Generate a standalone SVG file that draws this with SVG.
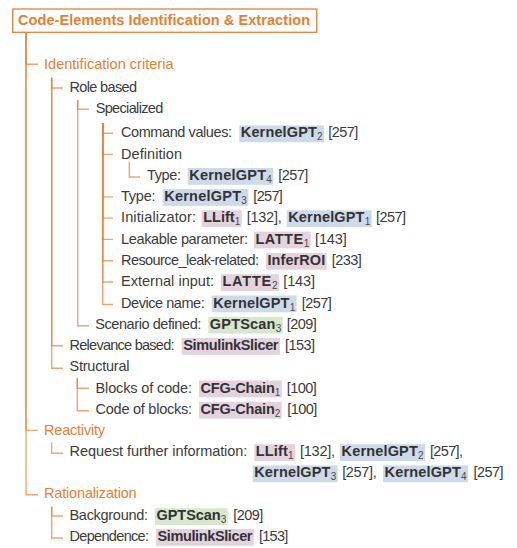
<svg xmlns="http://www.w3.org/2000/svg" width="517" height="548" viewBox="0 0 517 548">
<style>
text{font-family:"Liberation Sans",Arial,Helvetica,sans-serif;font-size:14.5px;fill:#3b3b3b}
.o{fill:#E67E33}
.ti{font-weight:bold;fill:#E67E33}
.b{font-weight:bold;fill:#333333}
.s{font-size:10px;font-weight:normal;fill:#4a4a4a}
.hb{fill:#CDDAEA}
.hp{fill:#E4D2DE}
.hg{fill:#D6E7CC}
.e{fill:none;stroke:#E8803A;stroke-width:1.4;stroke-opacity:0.7}
.box{fill:#ffffff;stroke:#E8803A;stroke-width:1.3}
</style>
<rect width="517" height="548" fill="#ffffff"/>
<g id="connectors">
<path class="e" d="M26,32.3 V64.3 H38"/>
<path class="e" d="M26,32.3 V430.4 H38"/>
<path class="e" d="M26,32.3 V494.8 H38"/>
<path class="e" d="M51.7,77.7 V88 H63"/>
<path class="e" d="M51.7,77.7 V345.8 H63"/>
<path class="e" d="M51.7,77.7 V368.3 H63"/>
<path class="e" d="M77.7,100 V109.2 H89"/>
<path class="e" d="M77.7,100 V325.8 H89"/>
<path class="e" d="M102.7,123 V133.2 H113"/>
<path class="e" d="M102.7,123 V154.4 H113"/>
<path class="e" d="M102.7,123 V196.9 H113"/>
<path class="e" d="M102.7,123 V218.1 H113"/>
<path class="e" d="M102.7,123 V239.4 H113"/>
<path class="e" d="M102.7,123 V260.7 H113"/>
<path class="e" d="M102.7,123 V282 H113"/>
<path class="e" d="M102.7,123 V304.5 H113"/>
<path class="e" d="M129.3,161.7 V177 H140"/>
<path class="e" d="M77.3,378.3 V388.3 H89"/>
<path class="e" d="M77.3,378.3 V410.8 H89"/>
<path class="e" d="M51.7,442.3 V453.2 H63"/>
<path class="e" d="M51.7,506.7 V516 H63"/>
<path class="e" d="M51.7,506.7 V538 H63"/>
</g>
<g id="root">
<rect class="box" x="12.7" y="9" width="304" height="23.3"/>
<text class="ti" x="18" y="25.3" textLength="292">Code-Elements Identification &amp; Extraction</text>
</g>
<g id="identification">
<text class="o" x="44" y="68.5" textLength="129.5">Identification criteria</text>
</g>
<g id="role-based">
<text x="69.5" y="92.2" textLength="67.5">Role based</text>
</g>
<g id="specialized">
<text x="95.7" y="113.4" textLength="67.6">Specialized</text>
</g>
<g id="command-values">
<text x="121" y="137.4" textLength="111">Command values:</text>
<rect class="hb" x="239.3" y="125.4" width="84.7" height="16.8"/>
<text class="b" x="240.8" y="137.4" textLength="81.7">KernelGPT<tspan class="s" dy="3">2</tspan></text>
<text x="328.3" y="137.4" textLength="30">[257]</text>
</g>
<g id="definition">
<text x="121" y="158.6" textLength="61">Definition</text>
</g>
<g id="definition-type">
<text x="147" y="180" textLength="34">Type:</text>
<rect class="hb" x="187.7" y="168" width="85.6" height="16.8"/>
<text class="b" x="189.2" y="180" textLength="82.6">KernelGPT<tspan class="s" dy="3">4</tspan></text>
<text x="278.3" y="180" textLength="30">[257]</text>
</g>
<g id="type">
<text x="121" y="201.1" textLength="34.5">Type:</text>
<rect class="hb" x="162.7" y="189.1" width="85.6" height="16.8"/>
<text class="b" x="164.2" y="201.1" textLength="82.6">KernelGPT<tspan class="s" dy="3">3</tspan></text>
<text x="253.3" y="201.1" textLength="29.5">[257]</text>
</g>
<g id="initializator">
<text x="121" y="222.3" textLength="75">Initializator:</text>
<rect class="hp" x="201.7" y="210.3" width="40" height="16.8"/>
<text class="b" x="203.2" y="222.3" textLength="37">LLift<tspan class="s" dy="3">1</tspan></text>
<text x="246.7" y="222.3" textLength="35">[132],</text>
<rect class="hb" x="286.7" y="210.3" width="85" height="16.8"/>
<text class="b" x="288.2" y="222.3" textLength="82">KernelGPT<tspan class="s" dy="3">1</tspan></text>
<text x="376" y="222.3" textLength="30">[257]</text>
</g>
<g id="leakable-parameter">
<text x="121" y="243.6" textLength="127">Leakable parameter:</text>
<rect class="hp" x="254" y="231.6" width="56.7" height="16.8"/>
<text class="b" x="255.5" y="243.6" textLength="53.7">LATTE<tspan class="s" dy="3">1</tspan></text>
<text x="315" y="243.6" textLength="31.7">[143]</text>
</g>
<g id="resource-leak">
<text x="121" y="264.9" textLength="138">Resource_leak-related:</text>
<rect class="hp" x="266" y="252.9" width="60.7" height="16.8"/>
<text class="b" x="267.5" y="264.9" textLength="57.7">InferROI</text>
<text x="331.7" y="264.9" textLength="30">[233]</text>
</g>
<g id="external-input">
<text x="121" y="286.2" textLength="93">External input:</text>
<rect class="hp" x="221" y="274.2" width="58" height="16.8"/>
<text class="b" x="222.5" y="286.2" textLength="55">LATTE<tspan class="s" dy="3">2</tspan></text>
<text x="283.3" y="286.2" textLength="31.7">[143]</text>
</g>
<g id="device-name">
<text x="121" y="307.5" textLength="83.7">Device name:</text>
<rect class="hb" x="211.7" y="295.5" width="85" height="16.8"/>
<text class="b" x="213.2" y="307.5" textLength="82">KernelGPT<tspan class="s" dy="3">1</tspan></text>
<text x="301.7" y="307.5" textLength="30">[257]</text>
</g>
<g id="scenario-defined">
<text x="95.3" y="328.8" textLength="106">Scenario defined:</text>
<rect class="hg" x="208.3" y="316.8" width="74.4" height="16.8"/>
<text class="b" x="209.8" y="328.8" textLength="71.4">GPTScan<tspan class="s" dy="3">3</tspan></text>
<text x="286.7" y="328.8" textLength="30">[209]</text>
</g>
<g id="relevance-based">
<text x="69.5" y="350" textLength="105">Relevance based:</text>
<rect class="hp" x="181.7" y="338" width="98.3" height="16.8"/>
<text class="b" x="183.2" y="350" textLength="95.3">SimulinkSlicer</text>
<text x="285" y="350" textLength="30">[153]</text>
</g>
<g id="structural">
<text x="69.5" y="371.3" textLength="60">Structural</text>
</g>
<g id="blocks-of-code">
<text x="95.5" y="392.5" textLength="96.5">Blocks of code:</text>
<rect class="hp" x="199" y="380.5" width="82.7" height="16.8"/>
<text class="b" x="200.5" y="392.5" textLength="79.7">CFG-Chain<tspan class="s" dy="3">1</tspan></text>
<text x="286.7" y="392.5" textLength="30">[100]</text>
</g>
<g id="code-of-blocks">
<text x="95.5" y="413.8" textLength="96.5">Code of blocks:</text>
<rect class="hp" x="199" y="401.8" width="82.7" height="16.8"/>
<text class="b" x="200.5" y="413.8" textLength="79.7">CFG-Chain<tspan class="s" dy="3">2</tspan></text>
<text x="287.3" y="413.8" textLength="30">[100]</text>
</g>
<g id="reactivity">
<text class="o" x="44" y="434.6" textLength="61">Reactivity</text>
</g>
<g id="request-further-information">
<text x="69.5" y="456.2" textLength="177.8">Request further information:</text>
<rect class="hp" x="254.3" y="444.2" width="40.7" height="16.8"/>
<text class="b" x="255.8" y="456.2" textLength="37.7">LLift<tspan class="s" dy="3">1</tspan></text>
<text x="300" y="456.2" textLength="35">[132],</text>
<rect class="hb" x="340" y="444.2" width="85" height="16.8"/>
<text class="b" x="341.5" y="456.2" textLength="82">KernelGPT<tspan class="s" dy="3">2</tspan></text>
<text x="430" y="456.2" textLength="33">[257],</text>
<rect class="hb" x="252.7" y="465.4" width="85" height="16.8"/>
<text class="b" x="254.2" y="477.4" textLength="82">KernelGPT<tspan class="s" dy="3">3</tspan></text>
<text x="342.2" y="477.4" textLength="34.5">[257],</text>
<rect class="hb" x="383" y="465.4" width="85" height="16.8"/>
<text class="b" x="384.5" y="477.4" textLength="82">KernelGPT<tspan class="s" dy="3">4</tspan></text>
<text x="473.5" y="477.4" textLength="30">[257]</text>
</g>
<g id="rationalization">
<text class="o" x="44" y="497.8" textLength="92.7">Rationalization</text>
</g>
<g id="background">
<text x="69.5" y="520.2" textLength="78.5">Background:</text>
<rect class="hg" x="155" y="508.2" width="72.7" height="16.8"/>
<text class="b" x="156.5" y="520.2" textLength="69.7">GPTScan<tspan class="s" dy="3">3</tspan></text>
<text x="233.3" y="520.2" textLength="30">[209]</text>
</g>
<g id="dependence">
<text x="69.5" y="541" textLength="79.5">Dependence:</text>
<rect class="hp" x="156" y="529" width="98" height="16.8"/>
<text class="b" x="157.5" y="541" textLength="95">SimulinkSlicer</text>
<text x="259" y="541" textLength="29.3">[153]</text>
</g>
</svg>
